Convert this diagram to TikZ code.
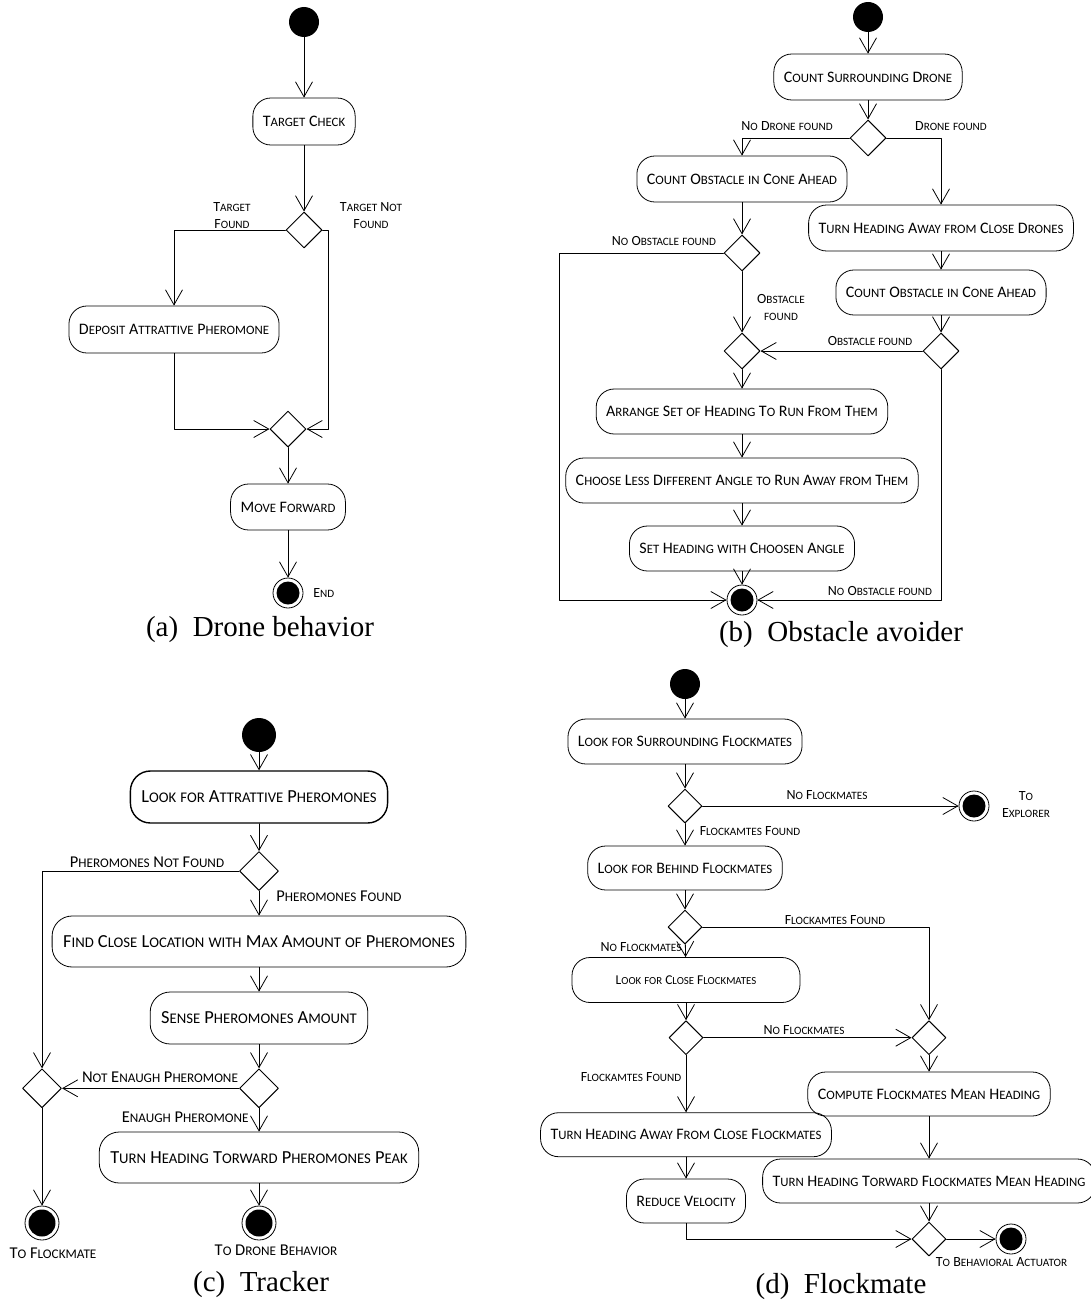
\documentclass[tikz,border=0pt]{standalone}
\usepackage{fontspec}
\setmainfont{Carlito}
\newfontfamily\capfont{Liberation Serif}
\newfontfamily\smallcapfont{Carlito}[Scale=0.8]
\usetikzlibrary{arrows.meta}
\usetikzlibrary{shapes.geometric}
\ExplSyntaxOn
\seq_new:N \l_fsc_words_seq
\NewDocumentCommand\fsc{m}
  {
    \seq_set_split:Nnn \l_fsc_words_seq { ~ } {#1}
    \seq_map_indexed_inline:Nn \l_fsc_words_seq
      {
        \int_compare:nNnT {##1} > {1} { \c_space_tl }
        \tl_map_inline:nn {##2}
          {
            \int_compare:nNnTF { `####1 } > { 96 }
              { { \smallcapfont \char \int_eval:n { `####1 - 32 } \scan_stop: } }
              { ####1 }
          }
      }
  }
\ExplSyntaxOff
\begin{document}
\begin{tikzpicture}[line cap=round,line join=round,x=1pt,y=-1pt,line width=0.8pt,
  >={Straight Barb[length=15pt,width=17pt]},
  act/.style={draw,rectangle,rounded corners=18pt,minimum height=46pt,inner xsep=10pt,font=\fontsize{16}{18}\selectfont},
  actc/.style={act,rounded corners=20pt,inner xsep=11pt,font=\fontsize{18.4}{21}\selectfont},
  dec/.style={draw,diamond,minimum size=36pt,inner sep=0pt,line width=1pt},
  ini/.style={circle,fill,minimum size=30pt,inner sep=0pt},
  fin/.style={circle,draw,minimum size=#1,inner sep=0pt,path picture={\fill (path picture bounding box.center) circle[radius=#1/2-3.5pt];}},
  fin/.default=30pt,
  lbl/.style={font=\fontsize{14}{17}\selectfont,align=center,inner sep=1pt},
  lblc/.style={lbl,font=\fontsize{16.5}{19}\selectfont},
  subcap/.style={font=\fontsize{29}{32}\selectfont\capfont}]
\useasboundingbox (0,0) rectangle (1090,1306);
\begin{scope}
\node[ini] (a0) at (304,22) {};
\node[act,minimum height=47pt] (a1) at (304,121.5) {\fsc{Target Check}};
\node[dec] (a2) at (304,230) {};
\node[act,minimum height=47pt] (a3) at (174,329.5) {\fsc{Deposit Attrattive Pheromone}};
\node[dec] (a4) at (288,429) {};
\node[act] (a5) at (288,507) {\fsc{Move Forward}};
\node[fin] (a6) at (288,593) {};
\coordinate (a7) at (328.5,230);
\node[lbl] (a8) at (232,215.5) {\fsc{Target}\\\fsc{Found}};
\node[lbl] (a9) at (371,215.5) {\fsc{Target Not}\\\fsc{Found}};
\node[lbl,anchor=west] (a10) at (312,593) {\fsc{End}};
\node[subcap] (a11) at (260,630) {(a)\hspace{0.5em}Drone behavior};
\draw[->] (a0) -- (a1);
\draw[->] (a1) -- (a2);
\draw[->] (a2.west) -| (a3.north);
\draw[->] (a2.east) -- (a7) |- (a4.east);
\draw[->] (a3.south) |- (a4.west);
\draw[->] (a4) -- (a5);
\draw[->] (a5) -- (a6);
\end{scope}
\begin{scope}[shift={(545,0)}]
\node[ini] (b0) at (323,17) {};
\node[act] (b1) at (323,77) {\fsc{Count Surrounding Drone}};
\node[dec] (b2) at (323,138) {};
\node[act] (b3) at (197,179) {\fsc{Count Obstacle in Cone Ahead}};
\node[act] (b4) at (396,228) {\fsc{Turn Heading Away from Close Drones}};
\node[act,minimum height=45pt] (b5) at (396,292.5) {\fsc{Count Obstacle in Cone Ahead}};
\node[dec] (b6) at (197,253) {};
\node[dec] (b7) at (197,351) {};
\node[dec] (b8) at (396,351) {};
\node[act,minimum height=45pt] (b9) at (197,411.5) {\fsc{Arrange Set of Heading To Run From Them}};
\node[act,minimum height=45pt] (b10) at (197,480.5) {\fsc{Choose Less Different Angle to Run Away from Them}};
\node[act,minimum height=45pt] (b11) at (197,548.5) {\fsc{Set Heading with Choosen Angle}};
\node[fin] (b12) at (197,600) {};
\coordinate (b13) at (14,253);
\node[lbl] (b14) at (242,126) {\fsc{No Drone found}};
\node[lbl] (b15) at (406,126) {\fsc{Drone found}};
\node[lbl] (b16) at (119,241) {\fsc{No Obstacle found}};
\node[lbl] (b17) at (236,307) {\fsc{Obstacle}\\\fsc{found}};
\node[lbl] (b18) at (325,341) {\fsc{Obstacle found}};
\node[lbl] (b19) at (335,591) {\fsc{No Obstacle found}};
\node[subcap] (b20) at (296,635) {(b)\hspace{0.5em}Obstacle avoider};
\draw[->] (b0) -- (b1);
\draw[->] (b1) -- (b2);
\draw[->] (b2.west) -| (b3.north);
\draw[->] (b2.east) -| (b4.north);
\draw[->] (b4) -- (b5);
\draw[->] (b3) -- (b6);
\draw[->] (b6) -- (b7);
\draw[->] (b5) -- (b8);
\draw[->] (b8) -- (b7);
\draw[->] (b6.west) -- (b13) |- (b12.west);
\draw[->] (b8.south) |- (b12.east);
\draw[->] (b7) -- (b9);
\draw[->] (b9) -- (b10);
\draw[->] (b10) -- (b11);
\draw[->] (b11) -- (b12);
\end{scope}
\begin{scope}[shift={(0,660)}]
\node[ini,minimum size=34pt] (c0) at (259,75) {};
\node[actc,minimum height=52pt,line width=1.4pt] (c1) at (259,137) {\fsc{Look for Attrattive Pheromones}};
\node[dec,minimum size=39pt] (c2) at (259,211) {};
\node[actc,minimum height=51pt] (c3) at (259,281.5) {\fsc{Find Close Location with Max Amount of Pheromones}};
\node[actc,minimum height=52pt] (c4) at (259,358) {\fsc{Sense Pheromones Amount}};
\node[dec,minimum size=39pt] (c5) at (259,428.3) {};
\node[dec,minimum size=39pt] (c6) at (42,428.3) {};
\node[actc,minimum height=51pt] (c7) at (259,497.5) {\fsc{Turn Heading Torward Pheromones Peak}};
\node[fin=34pt] (c8) at (42,563) {};
\node[fin=34pt] (c9) at (259,563) {};
\node[lblc] (c10) at (147,202) {\fsc{Pheromones Not Found}};
\node[lblc] (c11) at (339,236) {\fsc{Pheromones Found}};
\node[lblc] (c12) at (160,417) {\fsc{Not Enaugh Pheromone}};
\node[lblc,anchor=east] (c13) at (250,457) {\fsc{Enaugh Pheromone}};
\node[lblc] (c14) at (53,593) {\fsc{To Flockmate}};
\node[lblc] (c15) at (276,590) {\fsc{To Drone Behavior}};
\node[subcap] (c16) at (261,625) {(c)\hspace{0.5em}Tracker};
\draw[->] (c0) -- (c1);
\draw[->] (c1) -- (c2);
\draw[->] (c2.west) -| (c6.north);
\draw[->] (c2) -- (c3);
\draw[->] (c3) -- (c4);
\draw[->] (c4) -- (c5);
\draw[->] (c5.west) -- (c6.east);
\draw[->] (c5) -- (c7);
\draw[->] (c6) -- (c8);
\draw[->] (c7) -- (c9);
\end{scope}
\begin{scope}[shift={(545,660)}]
\node[ini] (d0) at (140,24) {};
\node[act,minimum height=45pt] (d1) at (140,81.5) {\fsc{Look for Surrounding Flockmates}};
\node[dec,minimum size=34pt] (d2) at (140,146) {};
\node[fin] (d3) at (429,146) {};
\node[act,minimum height=44pt] (d4) at (140,208) {\fsc{Look for Behind Flockmates}};
\node[dec,minimum size=34pt] (d5) at (140,267) {};
\node[act,minimum height=45pt,minimum width=228pt,font=\fontsize{13.5}{16}\selectfont] (d6) at (141,320) {\fsc{Look for Close Flockmates}};
\node[dec,minimum size=34pt] (d7) at (141,377.7) {};
\node[dec,minimum size=34pt] (d8) at (384,377.7) {};
\node[act,minimum height=44pt] (d9) at (384,434) {\fsc{Compute Flockmates Mean Heading}};
\node[act,minimum height=44pt] (d10) at (141,474.7) {\fsc{Turn Heading Away From Close Flockmates}};
\node[act,minimum height=44pt] (d11) at (141,541) {\fsc{Reduce Velocity}};
\node[act,minimum height=44pt] (d12) at (384,521) {\fsc{Turn Heading Torward Flockmates Mean Heading}};
\node[dec,minimum size=34pt] (d13) at (384,579) {};
\node[fin] (d14) at (466,579) {};
\node[lbl] (d15) at (282,135) {\fsc{No Flockmates}};
\node[lbl] (d16) at (481,144.5) {\fsc{To}\\\fsc{Explorer}};
\node[lbl] (d17) at (205,171) {\fsc{Flockamtes Found}};
\node[lbl] (d18) at (290,260) {\fsc{Flockamtes Found}};
\node[lbl] (d19) at (96,287) {\fsc{No Flockmates}};
\node[lbl] (d20) at (259,370) {\fsc{No Flockmates}};
\node[lbl] (d21) at (86,417) {\fsc{Flockamtes Found}};
\node[lbl] (d22) at (456.5,602) {\fsc{To Behavioral Actuator}};
\node[subcap] (d23) at (296,627) {(d)\hspace{0.5em}Flockmate};
\draw[->] (d0) -- (d1);
\draw[->] (d1) -- (d2);
\draw[->] (d2) -- (d3);
\draw[->] (d2) -- (d4);
\draw[->] (d4) -- (d5);
\draw[->] (d5.east) -| (d8.north);
\draw[->] (d5) -- (d6);
\draw[->] (d6) -- (d7);
\draw[->] (d7) -- (d8);
\draw[->] (d7) -- (d10);
\draw[->] (d8) -- (d9);
\draw[->] (d9) -- (d12);
\draw[->] (d10) -- (d11);
\draw[->] (d11.south) |- (d13.west);
\draw[->] (d12) -- (d13);
\draw[->] (d13) -- (d14);
\end{scope}
\end{tikzpicture}
\end{document}
